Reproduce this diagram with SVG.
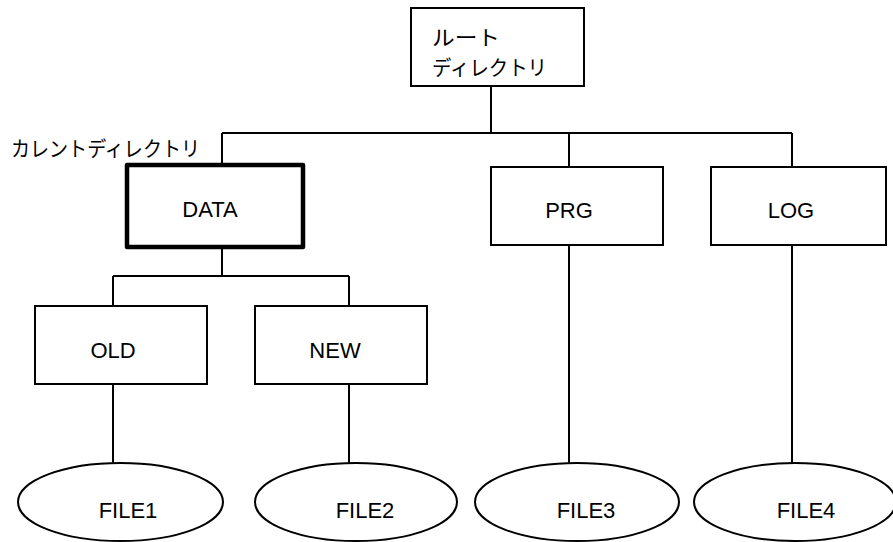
<svg xmlns="http://www.w3.org/2000/svg" width="893" height="542" viewBox="0 0 893 542">
<style>
.box{fill:#fff;stroke:#000;stroke-width:2}
.cur{fill:#fff;stroke:#000;stroke-width:4.5;stroke-linejoin:round}
.ell{fill:#fff;stroke:#000;stroke-width:2}
.ln{stroke:#000;stroke-width:2;fill:none}
text{font-family:"Liberation Sans","Noto Sans CJK JP",sans-serif;font-size:22px;fill:#000}
.jp{font-size:21px}
.m{text-anchor:middle}
</style>
<rect width="893" height="542" fill="#fff"/>
<g id="connectors">
<path class="ln" d="M491,86V133 M222,133H792 M222,133V165 M569,133V167 M792,133V167 M222,247V276 M113,276H349 M113,276V306 M349,276V306 M113,384V463 M349,384V463 M569,245V463 M792,245V463"/>
</g>
<g id="root">
<rect class="box" x="411" y="8" width="173" height="78"/>
<text class="jp" x="432" y="45" textLength="68" lengthAdjust="spacingAndGlyphs">ルート</text>
<text class="jp" x="432" y="75" textLength="115" lengthAdjust="spacingAndGlyphs">ディレクトリ</text>
</g>
<g id="current-label">
<text class="jp" x="11" y="156" textLength="189" lengthAdjust="spacingAndGlyphs">カレントディレクトリ</text>
</g>
<g id="data">
<rect class="cur" x="127" y="165" width="176" height="82"/>
<text class="m" x="210" y="217">DATA</text>
</g>
<g id="prg">
<rect class="box" x="491" y="167" width="172" height="78"/>
<text class="m" x="569" y="218">PRG</text>
</g>
<g id="log">
<rect class="box" x="711" y="167" width="175" height="78"/>
<text class="m" x="791" y="218">LOG</text>
</g>
<g id="old">
<rect class="box" x="35" y="306" width="172" height="78"/>
<text class="m" x="113" y="358">OLD</text>
</g>
<g id="new">
<rect class="box" x="255" y="306" width="172" height="78"/>
<text class="m" x="335" y="358">NEW</text>
</g>
<g id="file1">
<ellipse class="ell" cx="120.5" cy="502" rx="102.5" ry="39"/>
<text class="m" x="128" y="518">FILE1</text>
</g>
<g id="file2">
<ellipse class="ell" cx="356" cy="502" rx="101" ry="39"/>
<text class="m" x="365" y="518">FILE2</text>
</g>
<g id="file3">
<ellipse class="ell" cx="577" cy="502" rx="102" ry="39"/>
<text class="m" x="586" y="518">FILE3</text>
</g>
<g id="file4">
<ellipse class="ell" cx="795" cy="502" rx="101" ry="39"/>
<text class="m" x="806" y="518">FILE4</text>
</g>
</svg>
